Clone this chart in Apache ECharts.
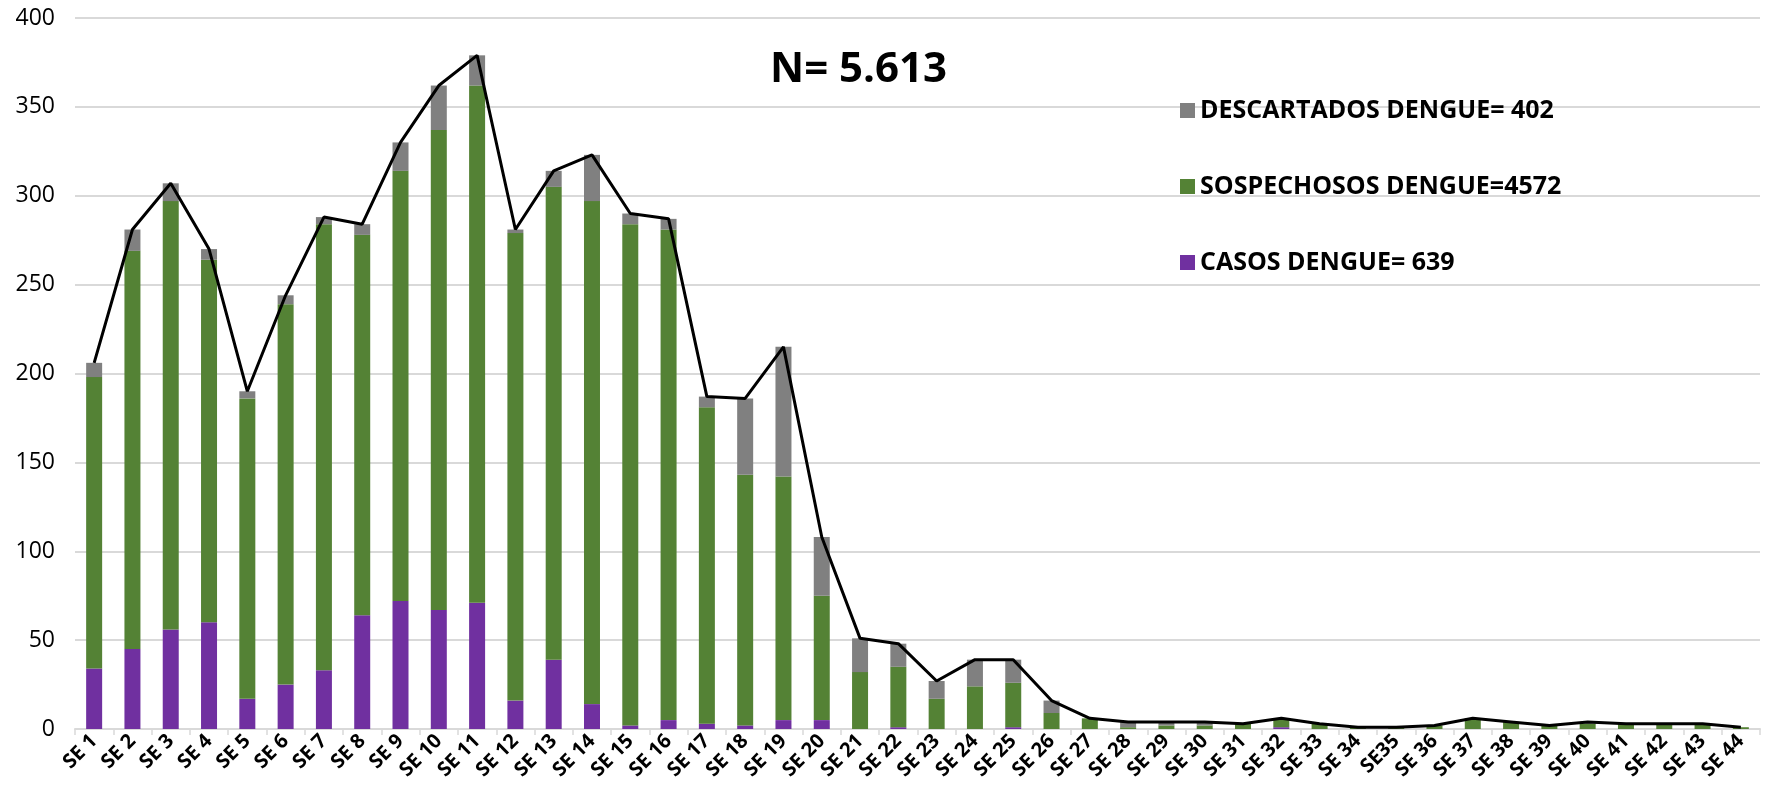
<!DOCTYPE html>
<html>
<head>
<meta charset="utf-8">
<script src="https://cdn.jsdelivr.net/npm/echarts@6/dist/echarts.min.js"></script>
<style>
  html, body { margin: 0; padding: 0; background: #ffffff; }
  #chart { width: 1765px; height: 790px; }
</style>
</head>
<body>
<div id="chart"></div>
<script>
// ---- Data ----
const categories = ['SE 1','SE 2','SE 3','SE 4','SE 5','SE 6','SE 7','SE 8','SE 9','SE 10',
  'SE 11','SE 12','SE 13','SE 14','SE 15','SE 16','SE 17','SE 18','SE 19','SE 20',
  'SE 21','SE 22','SE 23','SE 24','SE 25','SE 26','SE 27','SE 28','SE 29','SE 30',
  'SE 31','SE 32','SE 33','SE 34','SE35','SE 36','SE 37','SE 38','SE 39','SE 40',
  'SE 41','SE 42','SE 43','SE 44'];

const casos = [34,45,56,60,17,25,33,64,72,67,
  71,16,39,14,2,5,3,2,5,5,
  0,1,0,0,1,0,0,0,0,0,
  0,1,0,0,0,0,0,0,0,0,
  0,0,0,0];

const sospechosos = [164,224,241,204,169,214,251,214,242,270,
  291,263,266,283,282,276,178,141,137,70,
  32,34,17,24,25,9,6,1,2,2,
  3,5,3,1,1,2,6,4,2,3,
  3,3,3,1];

const descartados = [8,12,10,6,4,5,4,6,16,25,
  17,2,9,26,6,6,6,43,73,33,
  19,13,10,15,13,7,0,3,2,2,
  0,0,0,0,0,0,0,0,0,1,
  0,0,0,0];

const totales = [206,281,307,270,190,244,288,284,330,362,
  379,281,314,323,290,287,187,186,215,108,
  51,48,27,39,39,16,6,4,4,4,
  3,6,3,1,1,2,6,4,2,4,
  3,3,3,1];

const yTicks = { min: 0, max: 400, interval: 50 };

const nameCasos = 'CASOS DENGUE= 639';
const nameSosp = 'SOSPECHOSOS DENGUE=4572';
const nameDesc = 'DESCARTADOS DENGUE= 402';
const nLabel = 'N= 5.613';

const chart = echarts.init(document.getElementById('chart'));

const option = {
  animation: false,
  backgroundColor: '#ffffff',
  grid: { left: 75, right: 5, top: 18, bottom: 61, containLabel: false },
  legend: {
    orient: 'vertical',
    left: 1180,
    top: 98,
    padding: 0,
    itemWidth: 15,
    itemHeight: 15,
    itemGap: 51,
    icon: 'rect',
    data: [nameDesc, nameSosp, nameCasos],
    textStyle: { fontFamily: 'Open Sans', fontWeight: 'bold', fontSize: 25, color: '#000000' },
    selectedMode: false
  },
  graphic: [{
    type: 'text',
    left: 770,
    top: 49,
    style: {
      text: nLabel,
      fontFamily: 'Open Sans',
      fontWeight: 'bold',
      fontSize: 42,
      fill: '#000000'
    }
  }],
  xAxis: {
    type: 'category',
    data: categories,
    boundaryGap: true,
    axisLine: { lineStyle: { color: '#d9d9d9', width: 2 } },
    axisTick: { show: true, interval: 0, length: 6, lineStyle: { color: '#d9d9d9', width: 1.5 } },
    axisLabel: {
      interval: 0,
      rotate: 45,
      margin: 9,
      fontFamily: 'Open Sans',
      fontWeight: 'bold',
      fontSize: 20,
      color: '#000000'
    },
    splitLine: { show: false }
  },
  yAxis: {
    type: 'value',
    min: yTicks.min,
    max: yTicks.max,
    interval: yTicks.interval,
    axisLine: { show: false },
    axisTick: { show: false },
    axisLabel: { fontFamily: 'Open Sans', fontSize: 23, color: '#000000', margin: 20 },
    splitLine: { lineStyle: { color: '#d9d9d9', width: 2 } }
  },
  series: [
    {
      name: nameCasos, type: 'bar', stack: 'total', barWidth: 16,
      data: casos, itemStyle: { color: '#7030A0' }
    },
    {
      name: nameSosp, type: 'bar', stack: 'total', barWidth: 16,
      data: sospechosos, itemStyle: { color: '#548235' }
    },
    {
      name: nameDesc, type: 'bar', stack: 'total', barWidth: 16,
      data: descartados, itemStyle: { color: '#808080' }
    },
    {
      name: 'TOTAL', type: 'line', data: totales,
      symbol: 'none', z: 5,
      lineStyle: { color: '#000000', width: 3 }
    }
  ]
};

chart.setOption(option);
</script>
</body>
</html>
